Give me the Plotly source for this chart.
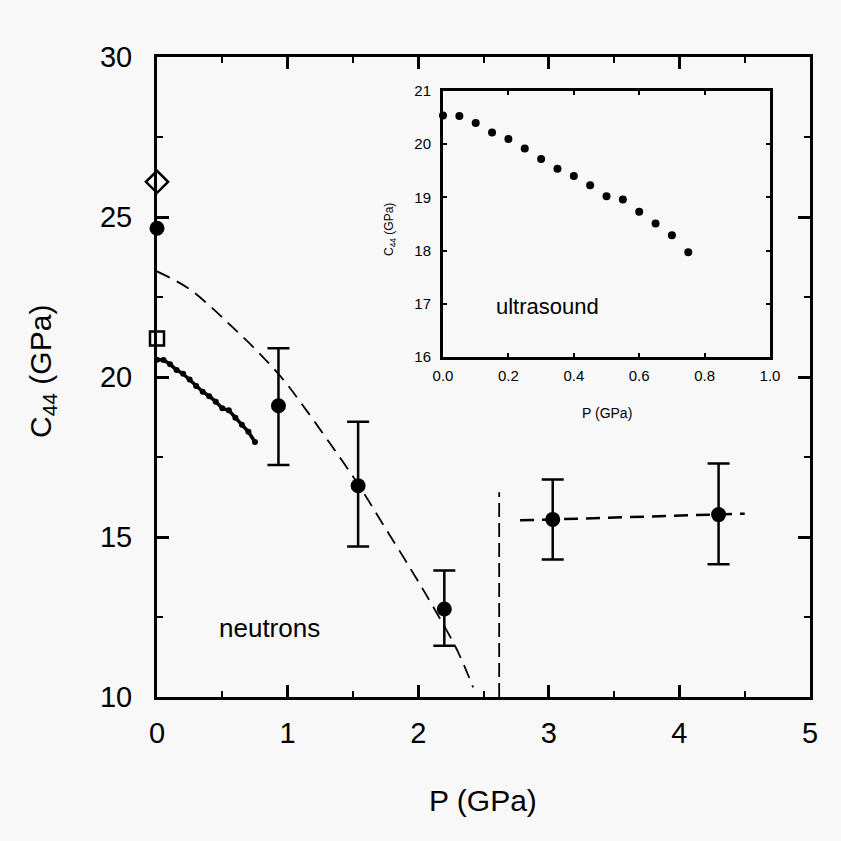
import plotly.graph_objects as go

# ---- data ----
# neutron measurements
neut_P = [0.93, 1.54, 2.20, 3.03, 4.30]
neut_C = [19.1, 16.6, 12.75, 15.55, 15.7]
neut_err_plus = [1.8, 2.0, 1.2, 1.25, 1.6]
neut_err_minus = [1.85, 1.9, 1.15, 1.25, 1.55]

# zero-pressure reference values
diamond_P = [0.0]
diamond_C = [26.1]
circle0_P = [0.0]
circle0_C = [24.65]
square_P = [0.0]
square_C = [21.2]

# ultrasound data (inset + main)
us_P = [0.0, 0.05, 0.10, 0.15, 0.20, 0.25, 0.30, 0.35, 0.40, 0.45, 0.50, 0.55, 0.60, 0.65, 0.70, 0.75]
us_C = [20.54, 20.53, 20.40, 20.22, 20.10, 19.92, 19.72, 19.54, 19.40, 19.23, 19.02, 18.96, 18.73, 18.51, 18.29, 17.97]

# dashed guide curve (low-pressure phase)
fit1_P = [0.0, 0.23, 0.41, 0.58, 0.77, 0.96, 1.11, 1.32, 1.54, 1.73, 1.95, 2.11, 2.30, 2.42]
fit1_C = [23.3, 22.80, 22.20, 21.55, 20.80, 19.95, 19.15, 17.95, 16.65, 15.40, 13.95, 12.85, 11.45, 10.3]

# dashed guide line (high-pressure phase)
fit2_P = [2.78, 4.50]
fit2_C = [15.52, 15.73]

# phase boundary
bound_P = [2.62, 2.62]
bound_C = [10.0, 16.4]

FONT = "Liberation Sans, Arial, sans-serif"
BG = "#f8f8f8"

fig = go.Figure()

# main plot traces
fig.add_trace(go.Scatter(x=fit1_P, y=fit1_C, mode="lines", line_shape="spline",
                         line=dict(color="black", width=1.8, dash="14px,8px"),
                         xaxis="x", yaxis="y", showlegend=False))
fig.add_trace(go.Scatter(x=fit2_P, y=fit2_C, mode="lines",
                         line=dict(color="black", width=2.5, dash="14px,8px"),
                         xaxis="x", yaxis="y", showlegend=False))
fig.add_trace(go.Scatter(x=bound_P, y=bound_C, mode="lines",
                         line=dict(color="black", width=1.8, dash="14px,6px"),
                         xaxis="x", yaxis="y", showlegend=False))
fig.add_trace(go.Scatter(x=us_P, y=us_C, mode="lines+markers",
                         line=dict(color="black", width=3.5),
                         marker=dict(color="black", size=6),
                         xaxis="x", yaxis="y", showlegend=False, cliponaxis=False))
fig.add_trace(go.Scatter(x=neut_P, y=neut_C, mode="markers",
                         marker=dict(color="black", size=15),
                         error_y=dict(type="data", symmetric=False,
                                      array=neut_err_plus, arrayminus=neut_err_minus,
                                      color="black", thickness=2.5, width=11),
                         xaxis="x", yaxis="y", showlegend=False))
fig.add_trace(go.Scatter(x=circle0_P, y=circle0_C, mode="markers",
                         marker=dict(color="black", size=15),
                         xaxis="x", yaxis="y", showlegend=False, cliponaxis=False))
fig.add_trace(go.Scatter(x=diamond_P, y=diamond_C, mode="markers",
                         marker=dict(symbol="diamond", color=BG, size=17,
                                     line=dict(color="black", width=2.5)),
                         xaxis="x", yaxis="y", showlegend=False, cliponaxis=False))
fig.add_trace(go.Scatter(x=square_P, y=square_C, mode="markers",
                         marker=dict(symbol="square", color=BG, size=14,
                                     line=dict(color="black", width=2.5)),
                         xaxis="x", yaxis="y", showlegend=False, cliponaxis=False))

# inset trace
fig.add_trace(go.Scatter(x=us_P, y=us_C, mode="markers",
                         marker=dict(color="black", size=8),
                         xaxis="x2", yaxis="y2", showlegend=False, cliponaxis=False))

W = 841.0
main_x = [157 / W, 810 / W]
main_y = [1 - 697 / W, 1 - 57 / W]
ins_x = [443 / W, 770 / W]
ins_y = [1 - 357 / W, 1 - 91 / W]

axis_common = dict(showgrid=False, zeroline=False, showline=True, linecolor="black",
                   mirror="ticks", ticks="inside", tickcolor="black", automargin=False)

fig.update_layout(
    width=841, height=841, autosize=False,
    margin=dict(l=0, r=0, t=0, b=0, autoexpand=False),
    paper_bgcolor=BG, plot_bgcolor=BG,
    font=dict(family=FONT, color="black"),
    xaxis=dict(domain=main_x, range=[0, 5], tickvals=[0, 1, 2, 3, 4, 5],
               linewidth=3, ticklen=12, tickwidth=2.5, ticklabelstandoff=8,
               minor=dict(dtick=0.5, ticklen=6, tickwidth=2, ticks="inside", tickcolor="black"),
               tickfont=dict(size=29, family=FONT), anchor="y", **axis_common),
    yaxis=dict(domain=main_y, range=[10, 30], tickvals=[10, 15, 20, 25, 30],
               linewidth=3, ticklen=12, tickwidth=2.5, ticklabelstandoff=16,
               minor=dict(dtick=2.5, ticklen=6, tickwidth=2, ticks="inside", tickcolor="black"),
               tickfont=dict(size=29, family=FONT), anchor="x", **axis_common),
    xaxis2=dict(domain=ins_x, range=[0, 1], tickvals=[0, 0.2, 0.4, 0.6, 0.8, 1.0],
                ticktext=["0.0", "0.2", "0.4", "0.6", "0.8", "1.0"],
                linewidth=3, ticklen=4, tickwidth=1.5, ticklabelstandoff=3,
                tickfont=dict(size=15, family=FONT), anchor="y2", **axis_common),
    yaxis2=dict(domain=ins_y, range=[16, 21], tickvals=[16, 17, 18, 19, 20, 21],
                linewidth=3, ticklen=4, tickwidth=1.5, ticklabelstandoff=6,
                tickfont=dict(size=15, family=FONT), anchor="x2", **axis_common),
    annotations=[
        dict(text="P (GPa)", x=483 / W, y=1 - 800 / W, xref="paper", yref="paper",
             showarrow=False, font=dict(size=30, family=FONT), xanchor="center", yanchor="middle"),
        dict(text="C<sub>44</sub> (GPa)", x=42 / W, y=1 - 372 / W, xref="paper", yref="paper",
             showarrow=False, textangle=-90, font=dict(size=30, family=FONT),
             xanchor="center", yanchor="middle"),
        dict(text="neutrons", x=0.865, y=12.15, xref="x", yref="y",
             showarrow=False, font=dict(size=26, family=FONT), xanchor="center", yanchor="middle"),
        dict(text="ultrasound", x=0.32, y=16.95, xref="x2", yref="y2",
             showarrow=False, font=dict(size=22, family=FONT), xanchor="center", yanchor="middle"),
        dict(text="P (GPa)", x=(443 + 770) / 2 / W, y=1 - 413 / W, xref="paper", yref="paper",
             showarrow=False, font=dict(size=14, family=FONT), xanchor="center", yanchor="middle"),
        dict(text="C<sub>44</sub> (GPa)", x=390 / W, y=1 - 230 / W, xref="paper", yref="paper",
             showarrow=False, textangle=-90, font=dict(size=12, family=FONT),
             xanchor="center", yanchor="middle"),
    ],
)

fig.write_html("out.html", config={"responsive": False, "displayModeBar": False},
               post_script="document.body.style.margin='0';document.body.style.padding='0';")
